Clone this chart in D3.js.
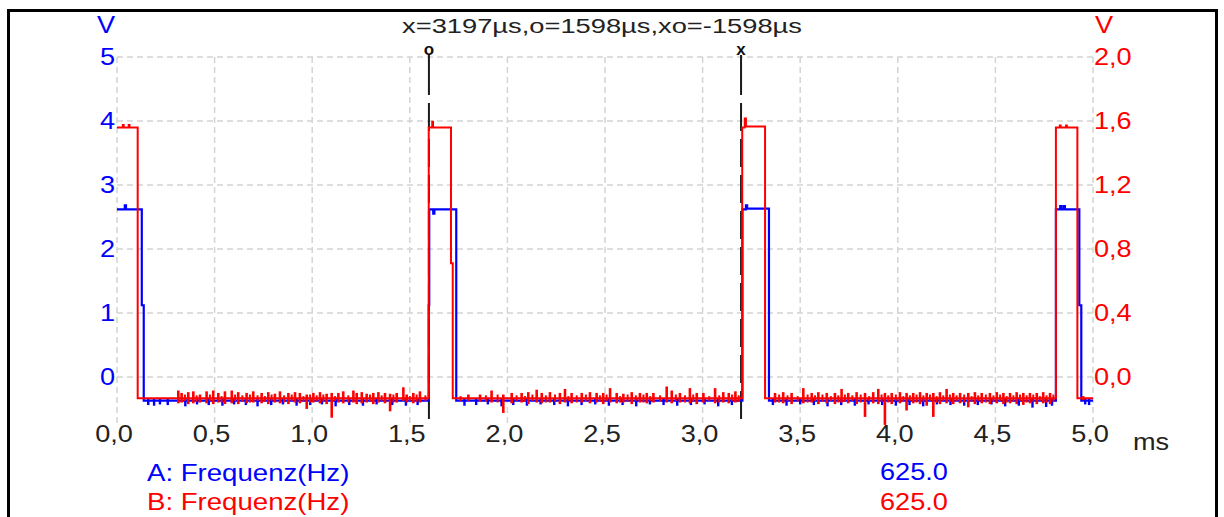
<!DOCTYPE html>
<html>
<head>
<meta charset="utf-8">
<script src="https://cdn.jsdelivr.net/npm/d3@7"></script>
<style>
  body { margin: 0; background: #fff; }
  text { font-family: "Liberation Sans", Arial, sans-serif; }
</style>
</head>
<body>
<div id="chart"></div>
<script>
const width = 1224;
const height = 517;

// time axis (ms)
const xTicks = [0, 0.5, 1.0, 1.5, 2.0, 2.5, 3.0, 3.5, 4.0, 4.5, 5.0];
const xTickLabels = ["0,0", "0,5", "1,0", "1,5", "2,0", "2,5", "3,0", "3,5", "4,0", "4,5", "5,0"];
// channel A (left, V)
const leftTicks = [0, 1, 2, 3, 4, 5];
const leftTickLabels = ["0", "1", "2", "3", "4", "5"];
// channel B (right, V)
const rightTicks = [0, 0.4, 0.8, 1.2, 1.6, 2.0];
const rightTickLabels = ["0,0", "0,4", "0,8", "1,2", "1,6", "2,0"];

const title = "x=3197µs,o=1598µs,xo=-1598µs";
const cursorNames = ["o", "x"];
const cursorTimes = [1.598, 3.197];

const legendNames = ["A: Frequenz(Hz)", "B: Frequenz(Hz)"];
const legendValues = ["625.0", "625.0"];

// channel A trace (step points)
const aT = [0, 0.04, 0.046, 0.127, 0.137, 1.597, 1.5995, 1.62, 1.626, 1.738, 3.204, 3.222, 3.228, 3.340, 4.810, 4.832, 4.838, 4.850, 4.856, 4.930, 4.940, 5.0];
const aV = [2.62, 2.68, 2.62, 1.12, -0.37, 1.12, 2.62, 2.55, 2.62, -0.37, 2.62, 2.68, 2.63, -0.37, 2.62, 2.67, 2.62, 2.67, 2.62, 1.12, -0.37, -0.37];
// channel A noise dips on the low level
const aNoiseT = [0.16, 0.19, 0.22, 0.26, 0.35, 0.41, 0.47, 0.54, 0.60, 0.66, 0.72, 0.79, 0.85, 0.92, 0.99, 1.05, 1.12, 1.19, 1.26, 1.33, 1.41, 1.48, 1.54,
  1.78, 1.84, 1.90, 1.97, 2.03, 2.10, 2.17, 2.24, 2.31, 2.38, 2.45, 2.52, 2.59, 2.66, 2.73, 2.80, 2.87, 2.94, 3.01, 3.08, 3.15,
  3.36, 3.43, 3.50, 3.57, 3.64, 3.71, 3.78, 3.85, 3.92, 3.99, 4.06, 4.13, 4.20, 4.27, 4.34, 4.41, 4.48, 4.55, 4.62, 4.69, 4.76, 4.79, 4.96, 4.98];
const aNoiseLo = [-0.44, -0.45, -0.43, -0.44, -0.46, -0.43, -0.44, -0.45, -0.43, -0.44, -0.46, -0.44, -0.43, -0.45, -0.44, -0.43, -0.46, -0.44, -0.45, -0.43, -0.44, -0.45, -0.44,
  -0.45, -0.44, -0.43, -0.46, -0.44, -0.45, -0.43, -0.44, -0.46, -0.44, -0.43, -0.45, -0.44, -0.46, -0.43, -0.44, -0.45, -0.44, -0.43, -0.46, -0.44,
  -0.44, -0.45, -0.43, -0.44, -0.46, -0.44, -0.45, -0.43, -0.44, -0.45, -0.44, -0.46, -0.43, -0.44, -0.45, -0.44, -0.43, -0.46, -0.45, -0.48, -0.47, -0.45, -0.43, -0.44];

// channel B trace (step points, right axis)
const bT = [0, 0.03, 0.034, 0.06, 0.064, 0.106, 1.597, 1.615, 1.619, 1.711, 1.720, 3.203, 3.216, 3.222, 3.320, 4.810, 4.830, 4.834, 4.862, 4.866, 4.920, 5.0];
const bV = [1.56, 1.575, 1.56, 1.575, 1.56, -0.133, 1.56, 1.595, 1.56, 0.71, -0.133, 1.56, 1.615, 1.565, -0.133, 1.56, 1.572, 1.56, 1.572, 1.56, -0.133, -0.133];
// channel B noise spikes on the low level
const bNoiseT = [0.314, 0.331, 0.365, 0.391, 0.425, 0.459, 0.493, 0.519, 0.553, 0.588, 0.621, 0.664, 0.698, 0.741, 0.775, 0.809, 0.835, 0.878, 0.912, 0.937,
  0.972, 1.006, 1.040, 1.074, 1.100, 1.134, 1.159, 1.211, 1.228, 1.254, 1.279, 1.313, 1.339, 1.373, 1.399, 1.433, 1.467, 1.484, 1.518, 1.552,
  1.800, 1.860, 1.919, 1.979, 2.022, 2.073, 2.107, 2.150, 2.176, 2.218, 2.269, 2.295, 2.329, 2.381, 2.423, 2.457, 2.491, 2.526, 2.560, 2.594,
  2.637, 2.679, 2.714, 2.748, 2.816, 2.842, 2.884, 2.935, 2.970, 3.004, 3.064, 3.106, 3.134, 3.168,
  3.371, 3.413, 3.456, 3.516, 3.559, 3.593, 3.636, 3.678, 3.712, 3.746, 3.789, 3.832, 3.874, 3.900, 3.934, 3.969, 4.011, 4.045, 4.079, 4.114,
  4.148, 4.182, 4.216, 4.250, 4.284, 4.319, 4.361, 4.395, 4.430, 4.472, 4.507, 4.541, 4.575, 4.609, 4.643, 4.677, 4.712, 4.745, 4.780, 4.950];
const bNoiseHi = [-0.085, -0.10, -0.095, -0.09, -0.11, -0.09, -0.085, -0.10, -0.09, -0.085, -0.095, -0.10, -0.09, -0.10, -0.095, -0.105, -0.09, -0.10, -0.095, -0.10,
  -0.11, -0.10, -0.095, -0.105, -0.10, -0.10, -0.09, -0.085, -0.10, -0.095, -0.105, -0.10, -0.095, -0.10, -0.105, -0.10, -0.065, -0.11, -0.10, -0.09,
  -0.11, -0.11, -0.085, -0.11, -0.10, -0.10, -0.095, -0.08, -0.10, -0.095, -0.10, -0.075, -0.10, -0.10, -0.095, -0.10, -0.10, -0.07, -0.10, -0.105,
  -0.095, -0.10, -0.10, -0.10, -0.06, -0.085, -0.10, -0.07, -0.10, -0.10, -0.07, -0.095, -0.10, -0.09,
  -0.10, -0.095, -0.10, -0.07, -0.10, -0.095, -0.10, -0.10, -0.075, -0.10, -0.095, -0.10, -0.095, -0.075, -0.10, -0.10, -0.095, -0.10, -0.10, -0.095,
  -0.10, -0.10, -0.095, -0.075, -0.10, -0.10, -0.10, -0.095, -0.10, -0.10, -0.095, -0.10, -0.10, -0.095, -0.10, -0.10, -0.10, -0.095, -0.10, -0.12];
const bNoiseLo = [-0.165, -0.16, -0.17, -0.165, -0.16, -0.165, -0.17, -0.16, -0.17, -0.165, -0.17, -0.165, -0.16, -0.165, -0.17, -0.16, -0.165, -0.17, -0.16, -0.165,
  -0.20, -0.16, -0.165, -0.17, -0.255, -0.16, -0.165, -0.16, -0.17, -0.165, -0.16, -0.17, -0.16, -0.165, -0.215, -0.16, -0.15, -0.16, -0.165, -0.16,
  -0.15, -0.155, -0.16, -0.225, -0.165, -0.16, -0.17, -0.16, -0.165, -0.16, -0.17, -0.16, -0.165, -0.16, -0.165, -0.16, -0.17, -0.16, -0.165, -0.16,
  -0.17, -0.16, -0.165, -0.16, -0.16, -0.165, -0.16, -0.165, -0.17, -0.16, -0.165, -0.16, -0.165, -0.16,
  -0.16, -0.165, -0.17, -0.165, -0.16, -0.17, -0.165, -0.17, -0.16, -0.165, -0.17, -0.25, -0.165, -0.17, -0.30, -0.17, -0.165, -0.21, -0.165, -0.17,
  -0.18, -0.25, -0.17, -0.165, -0.17, -0.165, -0.19, -0.17, -0.165, -0.17, -0.165, -0.17, -0.165, -0.17, -0.175, -0.165, -0.17, -0.165, -0.17, -0.145];
// channel B small jitter between the spikes
const bJitterT = [0.348, 0.408, 0.476, 0.536, 0.605, 0.642, 0.681, 0.720, 0.758, 0.792, 0.856, 0.895, 0.955, 0.989, 1.023, 1.057, 1.117, 1.185, 1.296, 1.356, 1.416, 1.500, 1.535, 1.580,
  1.760, 1.890, 1.950, 2.047, 2.090, 2.128, 2.197, 2.244, 2.312, 2.355, 2.402, 2.474, 2.508, 2.577, 2.616, 2.658, 2.697, 2.731, 2.782, 2.863, 2.910, 2.952, 3.034, 3.085, 3.151, 3.185,
  3.392, 3.435, 3.487, 3.538, 3.576, 3.614, 3.657, 3.695, 3.729, 3.767, 3.810, 3.853, 3.917, 3.951, 3.990, 4.028, 4.062, 4.096, 4.131, 4.165, 4.199, 4.233, 4.267, 4.301,
  4.340, 4.378, 4.412, 4.451, 4.490, 4.524, 4.558, 4.592, 4.626, 4.660, 4.694, 4.728, 4.762, 4.797];
const bJitterHi = [-0.11, -0.115, -0.11, -0.12, -0.11, -0.115, -0.11, -0.115, -0.12, -0.11, -0.115, -0.11, -0.12, -0.11, -0.115, -0.11, -0.12, -0.115, -0.11, -0.115, -0.11, -0.12, -0.11, -0.115,
  -0.12, -0.115, -0.11, -0.115, -0.12, -0.11, -0.115, -0.11, -0.12, -0.115, -0.11, -0.115, -0.11, -0.12, -0.11, -0.115, -0.11, -0.12, -0.115, -0.11, -0.115, -0.11, -0.12, -0.115, -0.11, -0.115,
  -0.11, -0.115, -0.12, -0.11, -0.115, -0.11, -0.12, -0.115, -0.11, -0.115, -0.11, -0.12, -0.11, -0.115, -0.11, -0.12, -0.115, -0.11, -0.115, -0.11, -0.12, -0.115, -0.11, -0.115,
  -0.11, -0.12, -0.115, -0.11, -0.115, -0.11, -0.12, -0.115, -0.11, -0.115, -0.11, -0.12, -0.115, -0.11];
const bJitterLo = [-0.15, -0.155, -0.15, -0.16, -0.15, -0.155, -0.16, -0.15, -0.155, -0.15, -0.16, -0.15, -0.155, -0.16, -0.15, -0.155, -0.15, -0.16, -0.155, -0.15, -0.16, -0.15, -0.155, -0.15,
  -0.15, -0.155, -0.16, -0.15, -0.155, -0.15, -0.16, -0.155, -0.15, -0.16, -0.15, -0.155, -0.15, -0.16, -0.155, -0.15, -0.16, -0.15, -0.155, -0.15, -0.16, -0.155, -0.15, -0.16, -0.15, -0.155,
  -0.16, -0.15, -0.155, -0.16, -0.15, -0.155, -0.15, -0.16, -0.155, -0.15, -0.16, -0.15, -0.155, -0.16, -0.15, -0.155, -0.15, -0.16, -0.155, -0.15, -0.16, -0.15, -0.155, -0.15,
  -0.16, -0.155, -0.15, -0.16, -0.155, -0.15, -0.16, -0.155, -0.15, -0.16, -0.155, -0.15, -0.16, -0.155];

const blue = "#0000ff";
const red = "#ff0000";
const plotLeft = 117, plotRight = 1093, plotTop = 57, plotBottom = 423;

const svg = d3.select("#chart").append("svg")
    .attr("width", width)
    .attr("height", height);

const x = d3.scaleLinear().domain([0, 5]).range([plotLeft, plotRight]);
const yA = d3.scaleLinear().domain([-0.72, 5]).range([plotBottom, plotTop]);
const yB = d3.scaleLinear().domain([-0.288, 2.0]).range([plotBottom, plotTop]);

// outer frame
svg.append("rect")
    .attr("x", 8.5).attr("y", 10.5)
    .attr("width", 1208).attr("height", 540)
    .attr("fill", "none").attr("stroke", "#000").attr("stroke-width", 3);

// grid
const grid = svg.append("g").attr("stroke", "#d4d4d4").attr("stroke-width", 1.5).attr("stroke-dasharray", "6,4");
grid.selectAll(".vg").data(xTicks).enter().append("line")
    .attr("x1", d => x(d)).attr("x2", d => x(d))
    .attr("y1", plotTop).attr("y2", plotBottom);
grid.selectAll(".hg").data(leftTicks).enter().append("line")
    .attr("x1", plotLeft).attr("x2", plotRight)
    .attr("y1", d => yA(d)).attr("y2", d => yA(d));

function label(sel, px, py, str, color, anchor, size, sx) {
    return sel.append("text")
        .attr("transform", `translate(${px},${py}) scale(${sx},1)`)
        .attr("text-anchor", anchor)
        .attr("font-size", size)
        .attr("fill", color)
        .text(str);
}

// tick labels
xTicks.forEach((t, i) => label(svg, x(t) - 3, 442, xTickLabels[i], "#222", "middle", 23, 1.18));
leftTicks.forEach((t, i) => label(svg, 115, yA(t) + 8, leftTickLabels[i], blue, "end", 23, 1.18));
rightTicks.forEach((t, i) => label(svg, 1094, yB(t) + 8, rightTickLabels[i], red, "start", 23, 1.18));
label(svg, 115, 33, "V", blue, "end", 23, 1.18);
label(svg, 1095, 33, "V", red, "start", 23, 1.18);
label(svg, 1133, 450, "ms", "#222", "start", 23, 1.18);
label(svg, 602, 33, title, "#222", "middle", 21, 1.3);

// cursors
cursorTimes.forEach((t, i) => {
    svg.append("line")
        .attr("x1", x(t)).attr("x2", x(t))
        .attr("y1", 55).attr("y2", plotBottom)
        .attr("stroke", "#1a1a1a").attr("stroke-width", 2)
        .attr("stroke-dasharray", "40,8,28,8,28,8,28,8,28,8,28,8,28,8,28,8,28,8,28,8,28,8,60");
    svg.append("text")
        .attr("x", x(t)).attr("y", 55)
        .attr("text-anchor", "middle")
        .attr("font-size", 17).attr("font-weight", "bold")
        .attr("fill", "#111")
        .text(cursorNames[i]);
});

// traces
const lineA = d3.line().x((d, i) => x(aT[i])).y(d => yA(d)).curve(d3.curveStepAfter);
const lineB = d3.line().x((d, i) => x(bT[i])).y(d => yB(d)).curve(d3.curveStepAfter);

svg.append("path").attr("d", lineA(aV))
    .attr("fill", "none").attr("stroke", blue).attr("stroke-width", 2.2);
svg.append("g").selectAll("line").data(aNoiseT).enter().append("line")
    .attr("x1", d => x(d)).attr("x2", d => x(d))
    .attr("y1", yA(-0.34)).attr("y2", (d, i) => yA(aNoiseLo[i]))
    .attr("stroke", blue).attr("stroke-width", 2.4);

svg.append("path").attr("d", lineB(bV))
    .attr("fill", "none").attr("stroke", red).attr("stroke-width", 2);
svg.append("g").selectAll("line").data(bJitterT).enter().append("line")
    .attr("x1", d => x(d)).attr("x2", d => x(d))
    .attr("y1", (d, i) => yB(bJitterHi[i])).attr("y2", (d, i) => yB(bJitterLo[i]))
    .attr("stroke", red).attr("stroke-width", 2);
svg.append("g").selectAll("line").data(bNoiseT).enter().append("line")
    .attr("x1", d => x(d)).attr("x2", d => x(d))
    .attr("y1", (d, i) => yB(bNoiseHi[i])).attr("y2", (d, i) => yB(bNoiseLo[i]))
    .attr("stroke", red).attr("stroke-width", 2.6);

// legend
label(svg, 147, 481, legendNames[0], blue, "start", 23, 1.2);
label(svg, 147, 510, legendNames[1], red, "start", 23, 1.2);
label(svg, 880, 480, legendValues[0], blue, "start", 23, 1.18);
label(svg, 880, 510, legendValues[1], red, "start", 23, 1.18);
</script>
</body>
</html>
